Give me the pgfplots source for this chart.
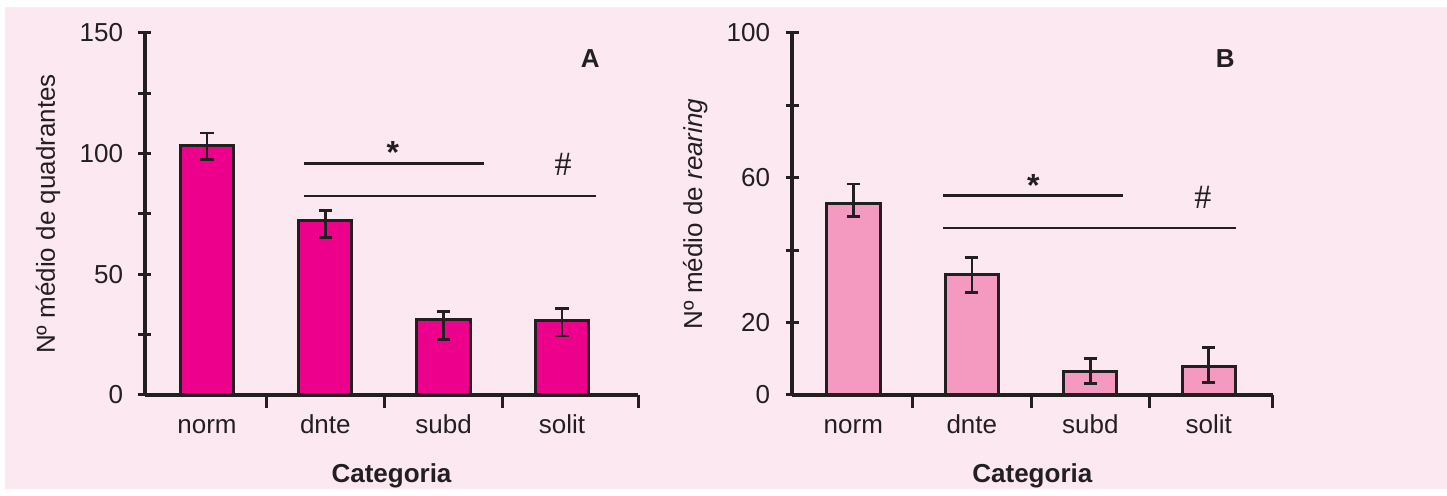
\documentclass[border=0pt]{standalone}
\usepackage{pgfplots}
\pgfplotsset{compat=1.18}
\usepackage{fontspec}
\setmainfont{Liberation Sans}
\newfontfamily\seriff{Liberation Serif}
\definecolor{bgpink}{HTML}{FCE8F1}
\definecolor{magA}{HTML}{EC008C}
\definecolor{pinkB}{HTML}{F49AC1}
\definecolor{ink}{HTML}{231F20}
\pgfplotsset{
 mystyle/.style={
  scale only axis, height=181pt, ymin=0,
  axis x line*=bottom, axis y line*=left,
  axis line style={ink, line width=1.6pt, -},
  tick align=center, major tick length=6.5pt,
  tick style={ink, line width=1.5pt},
  ybar, bar width=0.45, clip=false,
  xticklabels={,,,,},
  extra x ticks={0,1,2,3}, extra x tick labels={norm,dnte,subd,solit},
  extra x tick style={major tick length=0pt},
  xticklabel style={anchor=base, yshift=-19.25pt, text=ink},
  yticklabel style={anchor=east, inner sep=0pt, xshift=-7.5pt, text=ink},
  every axis y label/.style={rotate=90, anchor=base, text=ink},
  xlabel={\bfseries Categoria},
  every axis x label/.style={at={(axis description cs:0.5,0)}, anchor=base, yshift=-44pt, text=ink},
  /pgf/number format/assume math mode=true,
  error bars/y dir=both, error bars/y explicit,
  error bars/error mark options={rotate=90, mark size=3.3pt, line width=1.3pt, ink},
  error bars/error bar style={line width=1.3pt, ink},
 }
}
\begin{document}
\begin{tikzpicture}[font=\fontsize{13}{15.6}\selectfont]
\fill[white] (0,0) rectangle (723.5pt,244.5pt);
\fill[bgpink] (2.5pt,0) rectangle (723.5pt,241pt);
\begin{axis}[mystyle, at={(72.5pt,47pt)}, anchor=south west, width=246.5pt,
  xmin=-0.524, xmax=3.643, xtick={0.5,1.5,2.5,3.643},
  ymax=150, ytick={0,25,...,150}, yticklabels={0,,50,,100,,150},
  ylabel={Nº médio de quadrantes},
  ylabel style={at={(axis description cs:-0.1826,0.5)}}]
\addplot[fill=magA, draw=ink, line width=1.5pt] coordinates {
 (0,103.5) += (0,5.0) -= (0,5.8)
 (1,72.1) += (0,4.4) -= (0,6.9)
 (2,31.1) += (0,3.4) -= (0,8.0)
 (3,30.7) += (0,5.1) -= (0,6.2)
};
\draw[ink, line width=1.25pt] (axis cs:0.82,95.9) -- (axis cs:2.34,95.9);
\draw[ink, line width=1.25pt] (axis cs:0.82,82.5) -- (axis cs:3.29,82.5);
\node[text=ink, font=\bfseries\fontsize{16}{16}\selectfont] at (axis cs:1.57,100.3) {*};
\node[text=ink, font=\seriff\fontsize{17}{17}\selectfont] at (axis cs:3.01,95.7) {\#};
\node[text=ink, font=\bfseries\fontsize{13}{13}\selectfont] at (axis cs:3.24,139.2) {A};
\end{axis}
\begin{axis}[mystyle, at={(396pt,47pt)}, anchor=south west, width=240.35pt,
  xmin=-0.518, xmax=3.54, xtick={0.5,1.5,2.5,3.54},
  ymax=100, ytick={0,20,40,60,80,100}, yticklabels={0,20,,60,,100},
  ylabel={Nº médio de \textit{rearing}},
  ylabel style={at={(axis description cs:-0.1872,0.5)}}]
\addplot[fill=pinkB, draw=ink, line width=1.5pt] coordinates {
 (0,52.96) += (0,5.3) -= (0,3.7)
 (1,33.15) += (0,4.8) -= (0,4.8)
 (2,6.44) += (0,3.7) -= (0,3.3)
 (3,7.82) += (0,5.25) -= (0,4.3)
};
\draw[ink, line width=1.25pt] (axis cs:0.76,55.1) -- (axis cs:2.28,55.1);
\draw[ink, line width=1.25pt] (axis cs:0.76,46.1) -- (axis cs:3.23,46.1);
\node[text=ink, font=\bfseries\fontsize{16}{16}\selectfont] at (axis cs:1.52,58.0) {*};
\node[text=ink, font=\seriff\fontsize{17}{17}\selectfont] at (axis cs:2.95,54.7) {\#};
\node[text=ink, font=\bfseries\fontsize{13}{13}\selectfont] at (axis cs:3.14,92.8) {B};
\end{axis}
\end{tikzpicture}
\end{document}
